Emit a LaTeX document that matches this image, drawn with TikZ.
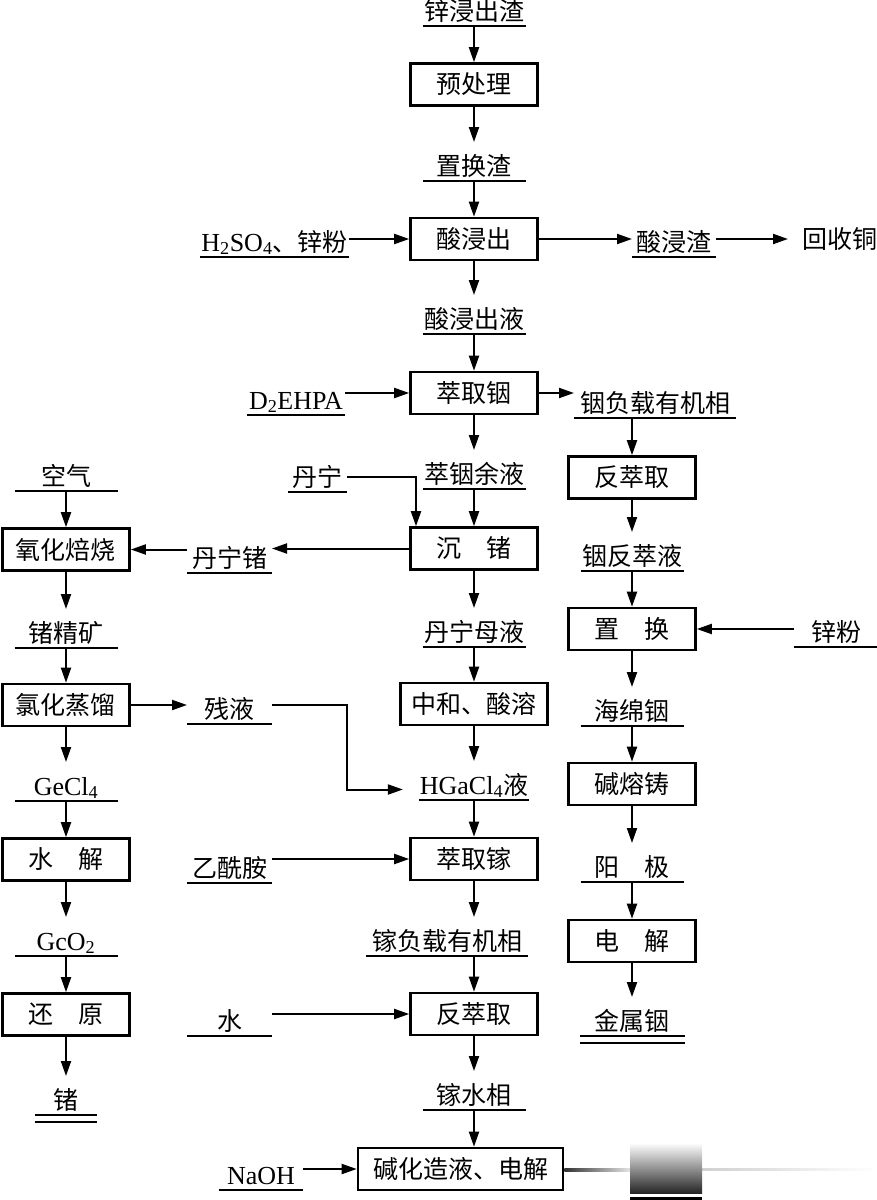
\documentclass[tikz,border=0pt]{standalone}
\usepackage{fontspec}
\setmainfont{Liberation Serif}
\newfontfamily\cjk{Noto Sans CJK SC}
\usetikzlibrary{arrows.meta}
\newcommand{\en}[1]{{\rmfamily\fontsize{26}{26}\selectfont #1}}

\begin{document}
\begin{tikzpicture}[x=1pt, y=-1pt, line width=2pt,
    every node/.style = {font=\cjk\fontsize{25}{25}\selectfont},
    proc/.style = {draw, line width=2.6pt, minimum width=127pt, minimum height=42pt, inner sep=0pt},
    mat/.style = {anchor=south, inner sep=0pt, text height=32pt, text depth=5pt, minimum width=101pt},
    arr/.style = {-{Triangle[length=15pt,width=10pt]}}]
\useasboundingbox (0,0) rectangle (876,1200);
% main column
\node[mat] (zinc) at (474,26) {锌浸出渣};
\node[proc] (pre) at (474,84.5) {预处理};
\node[mat] (disp) at (474,181) {置换渣};
\node[proc] (leach) at (474,239) {酸浸出};
\node[mat] (leachliq) at (474,334) {酸浸出液};
\node[proc] (extIn) at (474,393) {萃取铟};
\node[mat] (raff) at (474,489) {萃铟余液};
\node[proc] (precGe) at (474,548.5) {沉\quad 锗};
\node[mat] (tanliq) at (474,647) {丹宁母液};
\node[proc, minimum width=147pt] (neut) at (474,704) {中和、酸溶};
\node[mat] (hgacl) at (474,800) {\en{HGaCl\textsubscript{4}}液};
\node[proc] (extGa) at (474,859) {萃取镓};
\node[mat, minimum width=160pt] (gaorg) at (447,956) {镓负载有机相};
\node[proc] (strip) at (474,1014) {反萃取};
\node[mat] (gaaq) at (474,1110) {镓水相};
\node[proc, minimum width=205pt] (elec) at (460.5,1169) {碱化造液、电解};
% germanium column
\node[mat] (air) at (66,491) {空气};
\node[proc] (roast) at (66,549.5) {氧化焙烧};
\node[mat] (geconc) at (66,648) {锗精矿};
\node[proc] (chlor) at (66,705) {氯化蒸馏};
\node[mat] (gecl) at (66,801) {\en{GeCl\textsubscript{4}}};
\node[proc] (hydro) at (66,859.5) {水\quad 解};
\node[mat] (geo) at (66,956) {\en{GcO\textsubscript{2}}};
\node[proc] (red) at (66,1014.5) {还\quad 原};
\node[mat, minimum width=60pt] (ge) at (66,1115) {锗};
% reagents
\node[mat, minimum width=137pt] (acid) at (274.5,257) {\en{H\textsubscript{2}SO\textsubscript{4}}、锌粉};
\node[mat, minimum width=96pt] (dehpa) at (296,415) {\en{D\textsubscript{2}EHPA}};
\node[mat, minimum width=57pt] (tannin) at (317.5,492) {丹宁};
\node[mat, minimum width=83pt] (tange) at (229.5,573) {丹宁锗};
\node[mat, minimum width=83pt] (resid) at (229.5,724) {残液};
\node[mat, minimum width=83pt] (acet) at (229.5,883) {乙酰胺};
\node[mat, minimum width=83pt] (water) at (229.5,1036) {水};
\node[mat, minimum width=82pt] (naoh) at (261,1190) {\en{NaOH}};
% indium column
\node[mat, minimum width=82pt] (slag) at (674,257) {酸浸渣};
\node[anchor=west, inner sep=0pt] (cu) at (801,239) {回收铜};
\node[mat, minimum width=160pt] (inorg) at (655,418) {铟负载有机相};
\node[proc] (restrip) at (632,477.5) {反萃取};
\node[mat] (instrip) at (632,571) {铟反萃液};
\node[proc] (repl) at (632,629) {置\quad 换};
\node[mat, minimum width=82pt] (znp) at (836,647) {锌粉};
\node[mat] (sponge) at (632,726) {海绵铟};
\node[proc] (cast) at (632,784) {碱熔铸};
\node[mat] (anode) at (632,882) {阳\quad 极};
\node[proc] (elecIn) at (632,941) {电\quad 解};
\node[mat, minimum width=103pt] (inmet) at (632,1036) {金属铟};

\foreach \n in {zinc,disp,leachliq,raff,tanliq,hgacl,gaorg,gaaq,air,geconc,gecl,geo,
    acid,dehpa,tannin,tange,resid,acet,water,naoh,slag,inorg,instrip,znp,sponge,anode}
  \draw[line width=2pt] (\n.south west) -- (\n.south east);
\foreach \n in {ge,inmet}
  \draw[line width=2pt] (\n.south west) -- (\n.south east)
    ([yshift=-7pt]\n.south west) -- ([yshift=-7pt]\n.south east);

\draw[arr] (zinc) -- (pre);
\draw[arr] (pre) -- (disp);
\draw[arr] (disp) -- (leach);
\draw[arr] (leach) -- (leachliq);
\draw[arr] (leachliq) -- (extIn);
\draw[arr] (extIn) -- (raff);
\draw[arr] (raff) -- (precGe);
\draw[arr] (precGe) -- (tanliq);
\draw[arr] (tanliq) -- (neut);
\draw[arr] (neut) -- (hgacl);
\draw[arr] (hgacl) -- (extGa);
\draw[arr] (extGa) -- (extGa |- gaorg.north);
\draw[arr] (strip |- gaorg.south) -- (strip);
\draw[arr] (strip) -- (gaaq);
\draw[arr] (gaaq) -- (gaaq |- elec.north);

\draw[arr] (acid.east |- leach) -- (leach);
\draw[arr] (leach) -- (leach -| slag.west);
\draw[arr] (slag.east |- cu) -- ([xshift=-13pt]cu.west);
\draw[arr] (dehpa.east |- extIn) -- (extIn);
\draw[arr] (extIn) -- (extIn -| inorg.west);
\draw[arr] ([yshift=-4pt]tannin.east) -| ([xshift=-58pt]precGe.north);
\draw[arr] (precGe) -- (precGe -| tange.east);
\draw[arr] (tange.west |- roast) -- (roast);
\draw[arr] (acet.east |- extGa) -- (extGa);
\draw[arr] (water.east |- strip) -- (strip);
\draw[arr] (naoh.east |- elec) -- (elec);

\draw[arr] (air) -- (roast);
\draw[arr] (roast) -- (geconc);
\draw[arr] (geconc) -- (chlor);
\draw[arr] (chlor) -- (chlor -| resid.west);
\draw[arr] (resid.east |- chlor) -- ++(75,0) |- ([shift={(-16,9)}]hgacl.west);
\draw[arr] (chlor) -- (gecl);
\draw[arr] (gecl) -- (hydro);
\draw[arr] (hydro) -- (geo);
\draw[arr] (geo) -- (red);
\draw[arr] (red) -- (ge);

\draw[arr] (restrip |- inorg.south) -- (restrip);
\draw[arr] (restrip) -- (instrip);
\draw[arr] (instrip) -- (repl);
\draw[arr] (znp.west |- repl) -- (repl);
\draw[arr] (repl) -- (sponge);
\draw[arr] (sponge) -- (cast);
\draw[arr] (cast) -- (anode);
\draw[arr] (anode) -- (elecIn);
\draw[arr] (elecIn) -- (inmet);

% faded edge at the bottom
\shade[left color=black!80, right color=white] ([yshift=1pt]elec.east) rectangle (640,1171);
\shade[left color=black!25, right color=white] (640,1168) rectangle (876,1170);
\shade[top color=white, bottom color=black!85] (630,1143) rectangle (702,1193);
\fill (630,1197) rectangle (702,1200);
\end{tikzpicture}
\end{document}
